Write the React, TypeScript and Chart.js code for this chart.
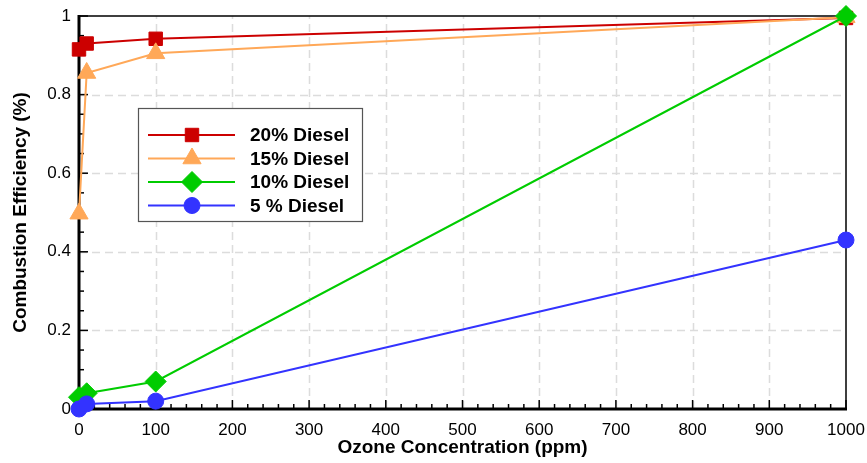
import React, { useEffect, useRef } from 'react';
import { Chart, registerables } from 'chart.js';
import { drawPoint } from 'chart.js/helpers';

Chart.register(...registerables);

// ---- data ----
const ozonePpm = [0, 10, 100, 1000];
const diesel20 = [0.915, 0.93, 0.942, 0.995];
const diesel15 = [0.497, 0.855, 0.905, 0.997];
const diesel10 = [0.03, 0.04, 0.07, 1.0];
const diesel5 = [0.0, 0.013, 0.02, 0.43];
const seriesLabels = ['20% Diesel', '15% Diesel', '10% Diesel', '5 % Diesel'];
const xTitle = 'Ozone Concentration (ppm)';
const yTitle = 'Combustion Efficiency (%)';

const FONT = "Arial, 'Liberation Sans', sans-serif";

const mk = (vals: number[]) => vals.map((v, i) => ({ x: ozonePpm[i], y: v }));

const framePlugin = {
  id: 'frame',
  beforeDatasetsDraw(chart: any) {
    const { ctx, chartArea: a, scales } = chart;
    const x = scales.x, y = scales.y;
    ctx.save();
    // dashed grid at major ticks
    ctx.strokeStyle = '#dcdcdc';
    ctx.lineWidth = 1.5;
    ctx.setLineDash([8, 5]);
    x.ticks.forEach((t: any) => {
      const v = Math.round(t.value);
      if (v % 100 === 0 && v > 0 && v < 1000) {
        const px = Math.round(x.getPixelForValue(t.value)) + 0.5;
        ctx.beginPath(); ctx.moveTo(px, a.bottom); ctx.lineTo(px, a.top); ctx.stroke();
      }
    });
    y.ticks.forEach((t: any) => {
      const v = Math.round(t.value * 100);
      if (v % 20 === 0 && v > 0 && v < 100) {
        const py = Math.round(y.getPixelForValue(t.value)) + 0.5;
        ctx.beginPath(); ctx.moveTo(a.left, py); ctx.lineTo(a.right, py); ctx.stroke();
      }
    });
    ctx.setLineDash([]);
    // inward tick marks
    ctx.strokeStyle = '#000';
    ctx.lineWidth = 1.5;
    x.ticks.forEach((t: any) => {
      const major = Math.round(t.value) % 100 === 0;
      const px = x.getPixelForValue(t.value);
      ctx.beginPath(); ctx.moveTo(px, a.bottom); ctx.lineTo(px, a.bottom - (major ? 9 : 5)); ctx.stroke();
    });
    y.ticks.forEach((t: any) => {
      const major = Math.round(t.value * 100) % 20 === 0;
      const py = y.getPixelForValue(t.value);
      ctx.beginPath(); ctx.moveTo(a.left, py); ctx.lineTo(a.left + (major ? 9 : 5), py); ctx.stroke();
    });
    // frame: thin top/right, thick left/bottom
    ctx.lineWidth = 1.5;
    ctx.beginPath();
    ctx.moveTo(a.left, a.top); ctx.lineTo(a.right, a.top); ctx.lineTo(a.right, a.bottom);
    ctx.stroke();
    ctx.lineWidth = 3;
    ctx.beginPath();
    ctx.moveTo(a.left, a.top - 1); ctx.lineTo(a.left, a.bottom); ctx.lineTo(a.right + 1, a.bottom);
    ctx.stroke();
    ctx.restore();
  },
};

const legendPlugin = {
  id: 'boxLegend',
  afterDatasetsDraw(chart: any) {
    const { ctx } = chart;
    const bx = 138, by = 108, bw = 224, bh = 113;
    ctx.save();
    ctx.fillStyle = '#fff';
    ctx.fillRect(bx, by, bw, bh);
    ctx.strokeStyle = '#555';
    ctx.lineWidth = 1.2;
    ctx.strokeRect(bx + 0.5, by + 0.5, bw, bh);
    const rows = [135, 158.5, 182, 205.5];
    chart.data.datasets.forEach((ds: any, i: number) => {
      const ry = rows[i];
      ctx.strokeStyle = ds.borderColor;
      ctx.lineWidth = ds.borderWidth;
      ctx.beginPath(); ctx.moveTo(148, ry); ctx.lineTo(235, ry); ctx.stroke();
      ctx.fillStyle = ds.pointBackgroundColor;
      ctx.strokeStyle = ds.pointBorderColor;
      ctx.lineWidth = 1;
      drawPoint(ctx, { pointStyle: ds.pointStyle, radius: ds.pointRadius, borderWidth: 1, rotation: 0 } as any, 192, ry);
      ctx.fillStyle = '#000';
      ctx.font = `bold 19px ${FONT}`;
      ctx.textBaseline = 'middle';
      ctx.textAlign = 'left';
      ctx.fillText(ds.label, 250, ry + 1);
    });
    ctx.restore();
  },
};

export default function App() {
  const ref = useRef<HTMLCanvasElement>(null);
  useEffect(() => {
    if (!ref.current) return;
    const series = [
      { label: seriesLabels[0], data: mk(diesel20), color: 'rgb(204,0,0)', style: 'rect', r: 9.5 },
      { label: seriesLabels[1], data: mk(diesel15), color: 'rgb(255,168,88)', style: 'triangle', r: 10.5 },
      { label: seriesLabels[2], data: mk(diesel10), color: 'rgb(0,204,0)', style: 'rectRot', r: 10.5 },
      { label: seriesLabels[3], data: mk(diesel5), color: 'rgb(51,51,255)', style: 'circle', r: 8 },
    ];
    const chart = new Chart(ref.current, {
      type: 'line',
      data: {
        datasets: series.map((s, i) => ({
          label: s.label,
          data: s.data,
          order: series.length - 1 - i,
          borderColor: s.color,
          backgroundColor: s.color,
          pointBackgroundColor: s.color,
          pointBorderColor: s.color,
          pointBorderWidth: 1,
          borderWidth: 2,
          pointStyle: s.style,
          pointRadius: s.r,
          pointHoverRadius: s.r,
          tension: 0,
          clip: false,
          fill: false,
        })),
      },
      options: {
        responsive: false,
        animation: false,
        layout: { padding: { left: 8, top: 16, right: 21, bottom: 0 } },
        plugins: { legend: { display: false }, tooltip: { enabled: false } },
        scales: {
          x: {
            type: 'linear',
            min: 0,
            max: 1000,
            grid: { display: false, drawTicks: false },
            border: { display: false },
            ticks: {
              stepSize: 20,
              autoSkip: false,
              maxRotation: 0,
              padding: 11,
              color: '#000',
              font: { family: FONT, size: 17 },
              callback: (v: any) => (Math.round(v) % 100 === 0 ? String(Math.round(v)) : ''),
            },
            title: {
              display: true,
              text: xTitle,
              color: '#000',
              font: { family: FONT, size: 19, weight: 'bold', lineHeight: 1.2 },
              padding: { top: 0, bottom: 3.6 },
            },
            afterFit: (s: any) => {
              s.height = 54;
              s.paddingLeft = 0;
              s.paddingRight = 0;
            },
          },
          y: {
            type: 'linear',
            min: 0,
            max: 1,
            grid: { display: false, drawTicks: false },
            border: { display: false },
            ticks: {
              stepSize: 0.05,
              autoSkip: false,
              padding: 8,
              color: '#000',
              font: { family: FONT, size: 17 },
              callback: (v: any) => {
                const k = Math.round(v * 100);
                return k % 20 === 0 ? String(k / 100) : '';
              },
            },
            title: {
              display: true,
              text: yTitle,
              color: '#000',
              font: { family: FONT, size: 19, weight: 'bold' },
              padding: { top: 1, bottom: 0 },
            },
            afterFit: (s: any) => {
              s.width = 71;
              s.paddingTop = 0;
              s.paddingBottom = 0;
            },
          },
        },
      },
      plugins: [framePlugin, legendPlugin],
    } as any);
    return () => chart.destroy();
  }, []);
  return (
    <div style={{ position: 'fixed', left: 0, top: 0, width: 867, height: 463 }}>
      <canvas ref={ref} width={867} height={463} style={{ display: 'block' }} />
    </div>
  );
}
